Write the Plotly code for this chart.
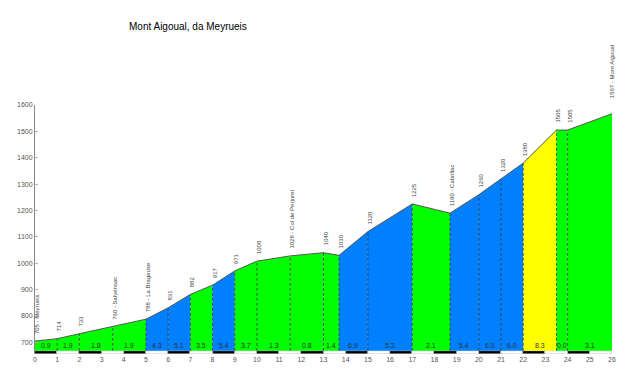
import plotly.graph_objects as go

# ---- data ----
km = [0, 1, 2, 3.5, 5, 6, 7, 8, 9, 10, 11.5, 13, 13.7, 15, 17, 18.7, 20, 21, 22, 23.5, 24, 26]
elev = [705, 714, 733, 760, 788, 831, 882, 917, 971, 1008, 1028, 1040, 1030, 1120, 1225, 1190, 1260, 1320, 1380, 1505, 1505, 1567]
names = ["Meyrueis", "", "", "Salvensac", "La Brageuse", "", "", "", "", "", "Col de Perjuret", "", "", "", "",
         "Cabrillac", "", "", "", "", "", "Mont Aigoual"]
grade_labels = ["0.9", "1.9", "1.8", "1.9", "4.3", "5.1", "3.5", "5.4", "3.7", "1.3", "0.8", "1.4", "6.9",
                "5.3", "2.1", "5.4", "6.0", "6.0", "8.3", "0.0", "3.1"]
title = "Mont Aigoual, da Meyrueis"
base = 668
bar_bottom = 656
km_ticks = list(range(0, 27))

GREEN = "#00FF00"
BLUE = "#0080FF"
YELLOW = "#FFFF00"


def seg_color(g):
    g = abs(float(g))
    if g >= 8:
        return YELLOW
    if g >= 4:
        return BLUE
    return GREEN


fig = go.Figure()

# coloured segments
for i in range(len(km) - 1):
    x0, x1 = km[i], km[i + 1]
    y0, y1 = elev[i], elev[i + 1]
    c = seg_color(grade_labels[i])
    fig.add_trace(go.Scatter(x=[x0, x0, x1, x1, x0], y=[base, y0, y1, base, base],
                             fill="toself", fillcolor=c, mode="none",
                             hoverinfo="skip", showlegend=False))

# dashed verticals
for i in range(1, len(km) - 1):
    fig.add_trace(go.Scatter(x=[km[i], km[i]], y=[base, elev[i]], mode="lines",
                             line=dict(color="#333333", width=0.8, dash="3px,2px"),
                             hoverinfo="skip", showlegend=False))

# profile outline
fig.add_trace(go.Scatter(x=km, y=elev, mode="lines", line=dict(color="#555555", width=1),
                         hoverinfo="skip", showlegend=False))

# km bar
bx = [k + 0.5 for k in km_ticks[:-1]]
bcol = ["#000000" if k % 2 == 0 else "#FFFFFF" for k in km_ticks[:-1]]
fig.add_trace(go.Bar(x=bx, y=[base - bar_bottom - 1] * len(bx), base=bar_bottom + 0.5, width=1,
                     marker=dict(color=bcol, line=dict(color="#bbbbbb", width=0.5)),
                     hoverinfo="skip", showlegend=False))

annotations = []
# point labels
last = len(km) - 1
for i, (k, e, n) in enumerate(zip(km, elev, names)):
    txt = f"{e} - {n}" if n else f"{e}"
    annotations.append(dict(x=k, y=e, text=txt, textangle=-90, showarrow=False,
                            xanchor="center", yanchor="bottom",
                            yshift=13 if i == last else 5, xshift=0 if i == last else 2,
                            font=dict(size=6, color="#444444", family="Liberation Sans, Arial")))
# grade labels
for i, g in enumerate(grade_labels):
    annotations.append(dict(x=(km[i] + km[i + 1]) / 2, y=base, text=g, showarrow=False,
                            xanchor="center", yanchor="bottom", yshift=0,
                            font=dict(size=7, color="#333333", family="Liberation Sans, Arial")))
# title
annotations.append(dict(xref="paper", yref="paper", x=(127 - 35) / 577, y=1 + (105 - 26) / 249,
                        text=title, showarrow=False, xanchor="left", yanchor="middle",
                        font=dict(size=10, color="#000000", family="Liberation Sans, Arial")))

fig.update_layout(
    width=632, height=371,
    margin=dict(l=27, r=28, t=97, b=25, autoexpand=False),
    plot_bgcolor="white", paper_bgcolor="white",
    annotations=annotations,
    bargap=0,
    xaxis=dict(range=[0, 26], tickvals=km_ticks, ticktext=[str(t) for t in km_ticks],
               showgrid=False, zeroline=False, showline=False, ticks="",
               tickfont=dict(size=7, color="#555555", family="Liberation Sans, Arial")),
    yaxis=dict(range=[bar_bottom, 1600], tickvals=list(range(700, 1601, 100)),
               showgrid=False, zeroline=False, showline=True, linecolor="#888888", linewidth=1,
               ticks="inside", ticklen=3, tickcolor="#f0a0a0",
               tickfont=dict(size=7, color="#555555", family="Liberation Sans, Arial")),
)

fig.write_html("out.html")
